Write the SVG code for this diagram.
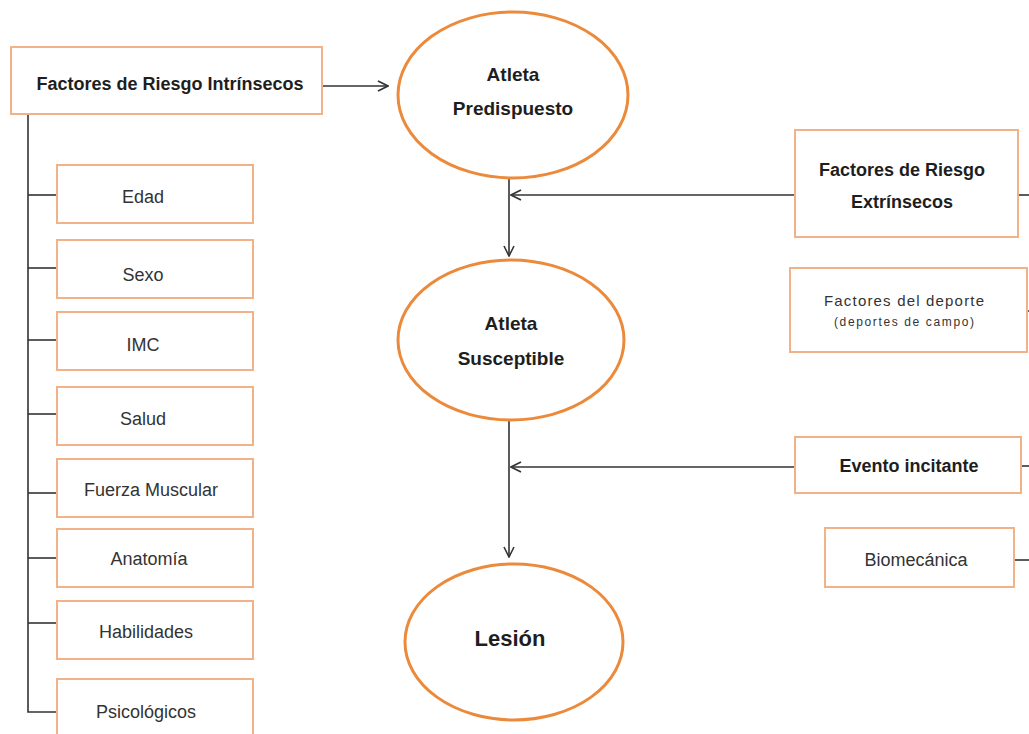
<svg xmlns="http://www.w3.org/2000/svg" width="1029" height="734" viewBox="0 0 1029 734">
<style>
.box{fill:#fff;stroke:#f2b287;stroke-width:2}
.ell{fill:#fff;stroke:#ec8a3c;stroke-width:3}
.t{font-family:"Liberation Sans",Arial,sans-serif;fill:#333;text-anchor:middle;font-size:18px}
.b{font-family:"Liberation Sans",Arial,sans-serif;fill:#1e1e1e;text-anchor:middle;font-weight:bold;font-size:18px}
.e{font-size:19px}
.ln{stroke:#333;stroke-width:1.6;fill:none}
</style>
<defs>
<marker id="arr" viewBox="0 0 12 12" refX="11" refY="6" markerWidth="12" markerHeight="12" markerUnits="userSpaceOnUse" orient="auto">
<path d="M1,1 L11,6 L1,11" fill="none" stroke="#333" stroke-width="1.6"/>
</marker>
</defs>
<rect width="1029" height="734" fill="#fff"/>
<g id="connectors">
<line class="ln" x1="322" y1="86" x2="388" y2="86" marker-end="url(#arr)"/>
<line class="ln" x1="509" y1="178" x2="509" y2="256" marker-end="url(#arr)"/>
<line class="ln" x1="795" y1="195" x2="511" y2="195" marker-end="url(#arr)"/>
<line class="ln" x1="509" y1="420" x2="509" y2="557" marker-end="url(#arr)"/>
<line class="ln" x1="795" y1="467" x2="511" y2="467" marker-end="url(#arr)"/>
<polyline class="ln" points="28,114 28,712 57,712"/>
<line class="ln" x1="28" y1="195" x2="57" y2="195"/>
<line class="ln" x1="28" y1="268" x2="57" y2="268"/>
<line class="ln" x1="28" y1="340" x2="57" y2="340"/>
<line class="ln" x1="28" y1="414" x2="57" y2="414"/>
<line class="ln" x1="28" y1="493" x2="57" y2="493"/>
<line class="ln" x1="28" y1="558" x2="57" y2="558"/>
<line class="ln" x1="28" y1="623" x2="57" y2="623"/>
<line class="ln" x1="1018" y1="195" x2="1029" y2="195"/>
<line class="ln" x1="1027" y1="311" x2="1029" y2="311"/>
<line class="ln" x1="1021" y1="466" x2="1029" y2="466"/>
<line class="ln" x1="1014" y1="560" x2="1029" y2="560"/>
</g>
<g id="intrinsecos"><rect class="box" x="11" y="47" width="311" height="67"/><text class="b" x="170" y="90">Factores de Riesgo Intrínsecos</text></g>
<g id="predispuesto"><ellipse class="ell" cx="513" cy="95" rx="115" ry="83"/><text class="b e" x="513" y="81">Atleta</text><text class="b e" x="513" y="115">Predispuesto</text></g>
<g id="susceptible"><ellipse class="ell" cx="511" cy="340" rx="113" ry="80"/><text class="b e" x="511" y="330">Atleta</text><text class="b e" x="511" y="365">Susceptible</text></g>
<g id="lesion"><ellipse class="ell" cx="514" cy="642" rx="109" ry="78"/><text class="b" x="510" y="646" style="font-size:22px">Lesión</text></g>
<g id="extrinsecos"><rect class="box" x="795" y="130" width="223" height="107"/><text class="b" x="902" y="176">Factores de Riesgo</text><text class="b" x="902" y="208">Extrínsecos</text></g>
<g id="deporte"><rect class="box" x="790" y="268" width="237" height="84"/><text class="t" x="904" y="306" style="font-size:15px" textLength="160" lengthAdjust="spacing">Factores del deporte</text><text class="t" x="904" y="326" style="font-size:12px" textLength="140" lengthAdjust="spacing">(deportes de campo)</text></g>
<g id="evento"><rect class="box" x="795" y="437" width="226" height="56"/><text class="b" x="909" y="472">Evento incitante</text></g>
<g id="biomecanica"><rect class="box" x="825" y="528" width="189" height="59"/><text class="t" x="916" y="566">Biomecánica</text></g>
<g id="edad"><rect class="box" x="57" y="165" width="196" height="58"/><text class="t" x="143" y="203">Edad</text></g>
<g id="sexo"><rect class="box" x="57" y="240" width="196" height="58"/><text class="t" x="143" y="281">Sexo</text></g>
<g id="imc"><rect class="box" x="57" y="312" width="196" height="58"/><text class="t" x="143" y="351">IMC</text></g>
<g id="salud"><rect class="box" x="57" y="387" width="196" height="58"/><text class="t" x="143" y="425">Salud</text></g>
<g id="fuerza"><rect class="box" x="57" y="459" width="196" height="58"/><text class="t" x="151" y="496">Fuerza Muscular</text></g>
<g id="anatomia"><rect class="box" x="57" y="529" width="196" height="58"/><text class="t" x="149" y="565">Anatomía</text></g>
<g id="habilidades"><rect class="box" x="57" y="601" width="196" height="58"/><text class="t" x="146" y="638">Habilidades</text></g>
<g id="psicologicos"><rect class="box" x="57" y="679" width="196" height="62"/><text class="t" x="146" y="718">Psicológicos</text></g>
</svg>
